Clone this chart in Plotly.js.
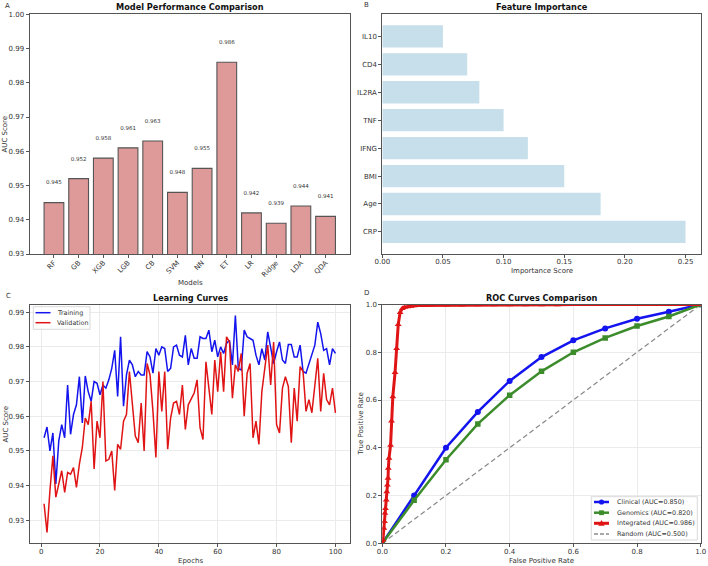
<!DOCTYPE html>
<html>
<head>
<meta charset="utf-8">
<script src="https://cdn.plot.ly/plotly-3.0.1.min.js"></script>
<style>html,body{margin:0;padding:0;background:#fff;}#chart{width:708px;height:566px;}</style>
</head>
<body>
<div id="chart"></div>
<script>
// ---- Panel A data ----
const models = ['RF','GB','XGB','LGB','CB','SVM','NN','ET','LR','Ridge','LDA','QDA'];
const aucScores = [0.945,0.952,0.958,0.961,0.963,0.948,0.955,0.986,0.942,0.939,0.944,0.941];

// ---- Panel B data ----
const features = ['CRP','Age','BMI','IFNG','TNF','IL2RA','CD4','IL10'];
const importance = [0.25,0.18,0.15,0.12,0.10,0.08,0.07,0.05];

// ---- Panel C data ----
const epochs = Array.from({length:100}, (_, i) => i + 1);
const trainingAuc = [
  0.9538,0.9569,0.9500,0.9552,0.9405,0.9529,0.9576,0.9538,0.9690,0.9548,
  0.9605,0.9633,0.9714,0.9581,0.9716,0.9671,0.9643,0.9700,0.9695,0.9662,
  0.9690,0.9681,0.9705,0.9738,0.9790,0.9657,0.9829,0.9629,0.9719,0.9762,
  0.9748,0.9714,0.9729,0.9719,0.9719,0.9786,0.9771,0.9724,0.9795,0.9776,
  0.9800,0.9795,0.9729,0.9738,0.9800,0.9805,0.9776,0.9771,0.9833,0.9748,
  0.9795,0.9767,0.9767,0.9829,0.9824,0.9824,0.9848,0.9786,0.9819,0.9771,
  0.9800,0.9781,0.9810,0.9819,0.9748,0.9890,0.9738,0.9733,0.9848,0.9829,
  0.9824,0.9819,0.9776,0.9748,0.9795,0.9762,0.9843,0.9795,0.9752,0.9786,
  0.9814,0.9762,0.9752,0.9807,0.9807,0.9771,0.9771,0.9805,0.9729,0.9724,
  0.9752,0.9776,0.9805,0.9871,0.9838,0.9790,0.9795,0.9748,0.9795,0.9781
];
const validationAuc = [
  0.9348,0.9265,0.9386,0.9486,0.9367,0.9405,0.9443,0.9381,0.9438,0.9433,
  0.9452,0.9395,0.9462,0.9510,0.9595,0.9576,0.9643,0.9448,0.9586,0.9538,
  0.9700,0.9471,0.9476,0.9500,0.9386,0.9519,0.9505,0.9586,0.9605,0.9729,
  0.9643,0.9543,0.9524,0.9638,0.9500,0.9752,0.9719,0.9614,0.9481,0.9729,
  0.9614,0.9729,0.9505,0.9595,0.9638,0.9643,0.9605,0.9690,0.9562,0.9633,
  0.9650,0.9667,0.9705,0.9567,0.9533,0.9757,0.9681,0.9605,0.9762,0.9671,
  0.9786,0.9671,0.9829,0.9814,0.9652,0.9748,0.9729,0.9781,0.9600,0.9724,
  0.9752,0.9538,0.9586,0.9519,0.9671,0.9743,0.9805,0.9690,0.9814,0.9576,
  0.9552,0.9681,0.9714,0.9686,0.9524,0.9681,0.9586,0.9743,0.9729,0.9614,
  0.9648,0.9610,0.9681,0.9767,0.9614,0.9724,0.9648,0.9633,0.9681,0.9610
];
const curveNames = ['Training','Validation'];

// ---- Panel D data ----
const rocFpr = [0,0.1,0.2,0.3,0.4,0.5,0.6,0.7,0.8,0.9,1.0];
const clinicalTpr = [0,0.20,0.40,0.55,0.68,0.78,0.85,0.90,0.94,0.97,1.0];
const genomicsTpr = [0,0.18,0.35,0.50,0.62,0.72,0.80,0.86,0.91,0.95,1.0];
const integratedFpr = [0,0.002,0.005,0.007,0.008,0.010,0.0125,0.014,0.016,0.018,0.019,0.021,0.026,0.029,0.033,0.040,0.045,0.050,0.056,0.063,0.070,0.080,0.090,0.100,0.110,0.120,0.130,0.140,0.150,0.200,0.250,0.300,0.350,0.400,0.450,0.500,0.550,0.600,0.650,0.700,0.750,0.800,0.850,0.900,0.950,1.000];
const integratedTpr = [0,0.014,0.063,0.091,0.126,0.146,0.181,0.216,0.244,0.272,0.314,0.356,0.411,0.512,0.614,0.715,0.816,0.916,0.967,0.983,0.988,0.991,0.993,0.995,0.996,0.996,0.997,0.997,0.998,0.998,0.998,0.999,0.999,0.999,0.999,0.999,0.999,1.0,1.0,1.0,1.0,1.0,1.0,1.0,1.0,1.0];
const randomFpr = [0,1];
const randomTpr = [0,1];
const rocNames = ['Clinical (AUC=0.850)','Genomics (AUC=0.820)','Integrated (AUC=0.986)','Random (AUC=0.500)'];

const FONT = 'DejaVu Sans, sans-serif';
const txt = '#333';
const labelOffset = 0.0057;
const BLUE = '#1414ee', RED = '#e01414', GREEN = '#3c8c2c', GRAY = '#8c8c8c';

const traces = [
  {type:'bar', x:models, y:aucScores, xaxis:'x', yaxis:'y', width:0.8,
   marker:{color:'rgb(222,153,153)', line:{color:'#555', width:1.1}}, showlegend:false},
  {type:'scatter', mode:'text', x:models, y:aucScores.map(v => v + labelOffset),
   text:aucScores.map(v => v.toFixed(3)), textposition:'middle center',
   textfont:{family:FONT, size:5.5, color:'#333'}, xaxis:'x', yaxis:'y', showlegend:false, cliponaxis:false},
  {type:'bar', orientation:'h', x:importance, y:features.map((f,i)=>i), xaxis:'x2', yaxis:'y2', width:0.8,
   marker:{color:'rgb(198,223,234)', line:{width:0}}, showlegend:false},
  {type:'scatter', mode:'lines', x:epochs, y:trainingAuc, name:curveNames[0], xaxis:'x3', yaxis:'y3',
   line:{color:BLUE, width:1.5}, showlegend:false},
  {type:'scatter', mode:'lines', x:epochs, y:validationAuc, name:curveNames[1], xaxis:'x3', yaxis:'y3',
   line:{color:RED, width:1.5}, showlegend:false},
  {type:'scatter', mode:'lines', x:randomFpr, y:randomTpr, name:rocNames[3], xaxis:'x4', yaxis:'y4',
   line:{color:GRAY, width:1.3, dash:'5px,3px'}, showlegend:false},
  {type:'scatter', mode:'lines+markers', x:rocFpr, y:clinicalTpr, name:rocNames[0], xaxis:'x4', yaxis:'y4',
   line:{color:BLUE, width:2.5}, marker:{symbol:'circle', size:6, color:BLUE}, showlegend:false},
  {type:'scatter', mode:'lines+markers', x:rocFpr, y:genomicsTpr, name:rocNames[1], xaxis:'x4', yaxis:'y4',
   line:{color:GREEN, width:2.5}, marker:{symbol:'square', size:5.5, color:GREEN}, showlegend:false},
  {type:'scatter', mode:'lines+markers', x:integratedFpr, y:integratedTpr, name:rocNames[2], xaxis:'x4', yaxis:'y4',
   line:{color:RED, width:3}, marker:{symbol:'triangle-up', size:6, color:RED}, showlegend:false}
];

const axBase = {
  showline:true, mirror:true, linecolor:'#555', linewidth:1,
  ticks:'outside', ticklen:3, tickwidth:1, tickcolor:'#555',
  tickfont:{family:FONT, size:7, color:txt}, zeroline:false, showgrid:false
};
function ax(extra){ return Object.assign(JSON.parse(JSON.stringify(axBase)), extra); }
const xax = extra => ax(Object.assign({ticklabelstandoff:-2}, extra));
const yax = extra => ax(Object.assign({ticklabelstandoff:0}, extra));

const W = 708, H = 566;
const px = x => x / W, py = y => 1 - y / H;
const xA = [px(29.5), px(350)], xB = [px(382.3), px(700.7)];
const yTop = [py(254), py(14.3)], yBot = [py(543.3), py(304.5)];

function label(t, x, y, opts){
  return Object.assign({text:t, xref:'paper', yref:'paper', x:px(x), y:py(y), xanchor:'center', yanchor:'middle',
    showarrow:false, font:{family:FONT, size:7, color:txt}}, opts||{});
}
const boldTitle = (t, x, y) => label('<b>'+t+'</b>', x, y, {font:{family:FONT, size:8.2, color:'#111'}});

// Custom compact legends (layout only)
const shapes = [];
const annotations = [
  boldTitle('Model Performance Comparison', 190, 7.5),
  boldTitle('Feature Importance', 541.5, 7.5),
  boldTitle('Learning Curves', 190, 297.8),
  boldTitle('ROC Curves Comparison', 541.5, 297.5),
  label('A', 3, 6, {xanchor:'left'}), label('B', 362, 5, {xanchor:'left'}),
  label('C', 4, 295.5, {xanchor:'left'}), label('D', 362, 293, {xanchor:'left'}),
  label('Models', 190, 282.7),
  label('AUC Score', 4.5, 134, {textangle:-90}),
  label('Importance Score', 541.5, 271),
  label('Epochs', 190, 560.5),
  label('AUC Score', 5.5, 424, {textangle:-90}),
  label('False Positive Rate', 541.5, 560.5),
  label('True Positive Rate', 360.5, 424, {textangle:-90})
];

function legendBox(x0, y0, x1, y1, rows, lineX0, lineX1, textX, items){
  shapes.push({type:'rect', xref:'paper', yref:'paper', x0:px(x0), x1:px(x1), y0:py(y1), y1:py(y0),
    line:{color:'#cfcfcf', width:0.8}, fillcolor:'rgba(255,255,255,0.85)', layer:'above'});
  items.forEach((it, i) => {
    const y = rows[i];
    shapes.push({type:'line', xref:'paper', yref:'paper', x0:px(lineX0), x1:px(lineX1), y0:py(y), y1:py(y),
      line:{color:it.color, width:it.width, dash:it.dash||'solid'}, layer:'above'});
    const cx = (lineX0 + lineX1) / 2, r = 2.6;
    if (it.symbol === 'circle') {
      shapes.push({type:'circle', xref:'paper', yref:'paper', x0:px(cx-r), x1:px(cx+r), y0:py(y+r), y1:py(y-r),
        fillcolor:it.color, line:{width:0}, layer:'above'});
    } else if (it.symbol === 'square') {
      shapes.push({type:'rect', xref:'paper', yref:'paper', x0:px(cx-2.4), x1:px(cx+2.4), y0:py(y+2.4), y1:py(y-2.4),
        fillcolor:it.color, line:{width:0}, layer:'above'});
    } else if (it.symbol === 'triangle') {
      shapes.push({type:'path', xref:'paper', yref:'paper',
        path:`M ${px(cx-3.2)} ${py(y+2.4)} L ${px(cx+3.2)} ${py(y+2.4)} L ${px(cx)} ${py(y-3.2)} Z`,
        fillcolor:it.color, line:{width:0}, layer:'above'});
    }
    annotations.push(label(it.name, textX, y, {xanchor:'left', font:{family:FONT, size:6.4, color:txt}}));
  });
}

legendBox(33.3, 306.7, 90, 329.3, [312.7, 322.7], 35.5, 50.5, 55,
  [{name:curveNames[0], color:BLUE, width:1.5}, {name:curveNames[1], color:RED, width:1.5}]);
legendBox(591.3, 496.7, 697.3, 540, [502, 512.7, 523.3, 534], 594, 609, 614.5,
  [{name:rocNames[0], color:BLUE, width:2.5, symbol:'circle'},
   {name:rocNames[1], color:GREEN, width:2.5, symbol:'square'},
   {name:rocNames[2], color:RED, width:3, symbol:'triangle'},
   {name:rocNames[3], color:GRAY, width:1.3, dash:'4px,2px'}]);

const layout = {
  width:W, height:H, margin:{l:0,r:0,t:0,b:0}, paper_bgcolor:'#fff', plot_bgcolor:'#fff',
  font:{family:FONT, size:7, color:txt}, showlegend:false,
  xaxis: xax({domain:xA, anchor:'y', type:'category', range:[-0.99,11.99], tickangle:-45}),
  yaxis: yax({domain:yTop, anchor:'x', range:[0.93,1.0], dtick:0.01, tickformat:'.2f'}),
  xaxis2: xax({domain:xB, anchor:'y2', range:[0,0.2625], dtick:0.05, tickformat:'.2f'}),
  yaxis2: yax({domain:yTop, anchor:'x2', range:[-0.79,7.79], tickvals:features.map((f,i)=>i), ticktext:features}),
  xaxis3: xax({domain:xA, anchor:'y3', range:[-3.95,104.95], dtick:20, showgrid:true, gridcolor:'#ebebeb'}),
  yaxis3: yax({domain:yBot, anchor:'x3', range:[0.9234,0.9922], dtick:0.01, tickformat:'.2f', showgrid:true, gridcolor:'#ebebeb'}),
  xaxis4: xax({domain:xB, anchor:'y4', range:[0,1], dtick:0.2, tickformat:'.1f', showgrid:true, gridcolor:'#ebebeb'}),
  yaxis4: yax({domain:yBot, anchor:'x4', range:[0,1], dtick:0.2, tickformat:'.1f', showgrid:true, gridcolor:'#ebebeb'}),
  shapes: shapes,
  annotations: annotations
};

Plotly.newPlot('chart', traces, layout, {staticPlot:true, displayModeBar:false});
</script>
</body>
</html>
